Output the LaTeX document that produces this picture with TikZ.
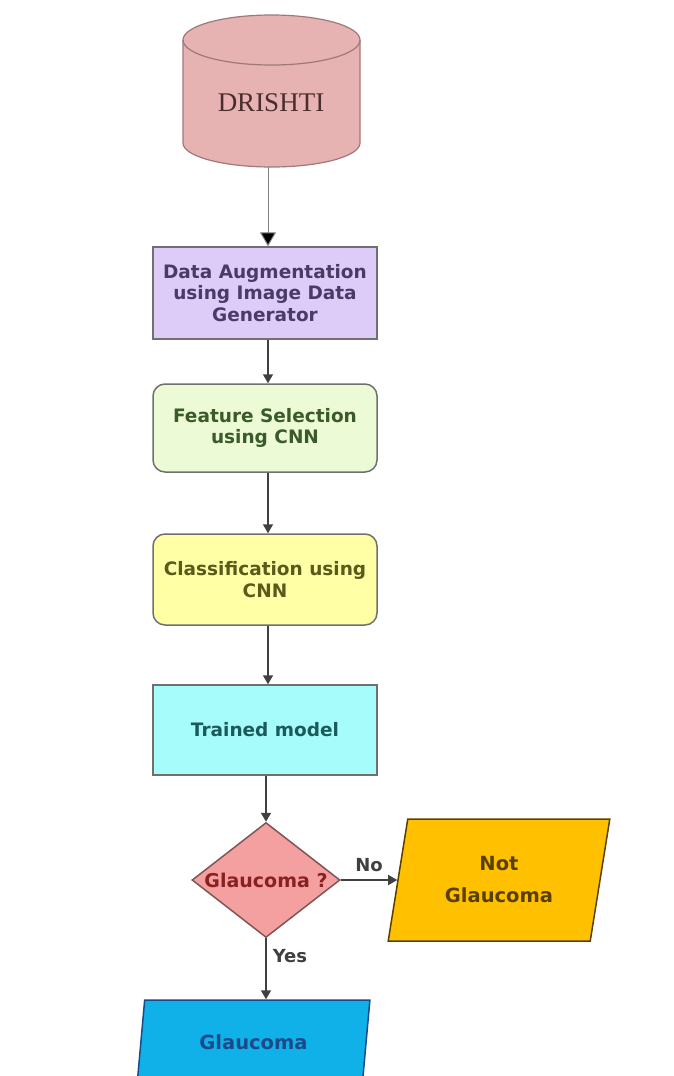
\documentclass[tikz,border=0pt]{standalone}
\usepackage{fontspec}
\setmainfont{DejaVu Sans}
\newfontfamily\serifbox{Liberation Serif}
\usetikzlibrary{shapes.geometric,arrows.meta}
\definecolor{cylfill}{HTML}{E6B2B2}
\definecolor{cyldraw}{HTML}{A07878}
\definecolor{cyltext}{HTML}{4A2E2E}
\definecolor{purfill}{HTML}{DDCCF7}
\definecolor{purtext}{HTML}{4A3A6A}
\definecolor{grnfill}{HTML}{EDFAD6}
\definecolor{grntext}{HTML}{3A5A2A}
\definecolor{ylwfill}{HTML}{FFFFA6}
\definecolor{ylwtext}{HTML}{5A5A1A}
\definecolor{cyanfill}{HTML}{A6FBFB}
\definecolor{cyantext}{HTML}{1A5A5A}
\definecolor{diafill}{HTML}{F4A0A0}
\definecolor{diadraw}{HTML}{805555}
\definecolor{diatext}{HTML}{8A2020}
\definecolor{ambfill}{HTML}{FFC000}
\definecolor{ambtext}{HTML}{5A4000}
\definecolor{blufill}{HTML}{10B0E8}
\definecolor{blutext}{HTML}{1A4A8A}
\definecolor{boxdraw}{HTML}{707070}
\definecolor{linecol}{HTML}{404040}
\tikzset{
  procbox/.style={draw=boxdraw, line width=1.5pt, minimum width=224pt, align=center, font=\bfseries\fontsize{18.5}{21.5}\selectfont, inner sep=0pt},
  roundbox/.style={procbox, rounded corners=12pt},
  iobox/.style={trapezium, trapezium left angle=76, trapezium right angle=104, trapezium stretches=true, line width=1.5pt, align=center, font=\bfseries\fontsize{19.5}{32}\selectfont, inner sep=0pt},
  conn/.style={draw=linecol, line width=1.6pt, -{Triangle[length=9pt,width=10pt]}},
  lbl/.style={font=\bfseries\fontsize{18}{20}\selectfont, text=linecol, inner sep=0pt}
}
\begin{document}
\begin{tikzpicture}[x=1pt,y=1pt]
\useasboundingbox (0,0) rectangle (673,-1076);
\clip (0,0) rectangle (673,-1076);
% cylinder
\path[fill=cylfill, draw=cyldraw, line width=1.2pt]
  (183,-40) -- (183,-143) arc (180:360:88.5 and 24) -- (360,-40) arc (0:180:88.5 and 25) -- cycle;
\draw[cyldraw, line width=1.2pt] (183,-40) arc (180:360:88.5 and 25);
\node[font=\serifbox\fontsize{27}{30}\selectfont, text=cyltext] (db) at (271,-103) {DRISHTI};
\coordinate (dbb) at (268,-167);

\node[procbox, fill=purfill, text=purtext, minimum height=92pt] (b1) at (265,-293) {Data Augmentation\\using Image Data\\Generator};
\node[roundbox, fill=grnfill, text=grntext, minimum height=88pt] (b2) at (265,-428) {Feature Selection\\using CNN};
\node[roundbox, fill=ylwfill, text=ylwtext, minimum height=91pt] (b3) at (265,-579.5) {Classification using\\CNN};
\node[procbox, fill=cyanfill, text=cyantext, minimum height=90pt] (b4) at (265,-730) {Trained model};
\node[diamond, aspect=1.29, draw=diadraw, line width=1.5pt, fill=diafill, text=diatext, inner sep=0pt, minimum width=148pt, minimum height=115pt, font=\bfseries\fontsize{19}{20}\selectfont] (dia) at (266,-880) {Glaucoma ?};
\node[iobox, draw=ambtext, fill=ambfill, text=ambtext, minimum width=222pt, minimum height=122pt] (ng) at (499,-880) {Not\\Glaucoma};
\node[iobox, draw=blutext, fill=blufill, text=blutext, minimum width=233pt, minimum height=84pt] (g) at (253.5,-1042) {Glaucoma};

\draw[draw=gray, line width=1pt, -{Triangle[length=14pt,width=16pt,fill=black]}] (dbb) -- (dbb |- b1.north);
\draw[conn] (b1.south -| dbb) -- (b2.north -| dbb);
\draw[conn] (b2.south -| dbb) -- (b3.north -| dbb);
\draw[conn] (b3.south -| dbb) -- (b4.north -| dbb);
\draw[conn] (b4.south -| dia) -- (dia.north);
\draw[conn] (dia.east) -- (ng.west) node[lbl, midway, above=7pt] {No};
\draw[conn] (dia.south) -- (dia.south |- g.north) node[lbl, pos=0.3, right=6pt] {Yes};
\end{tikzpicture}
\end{document}
